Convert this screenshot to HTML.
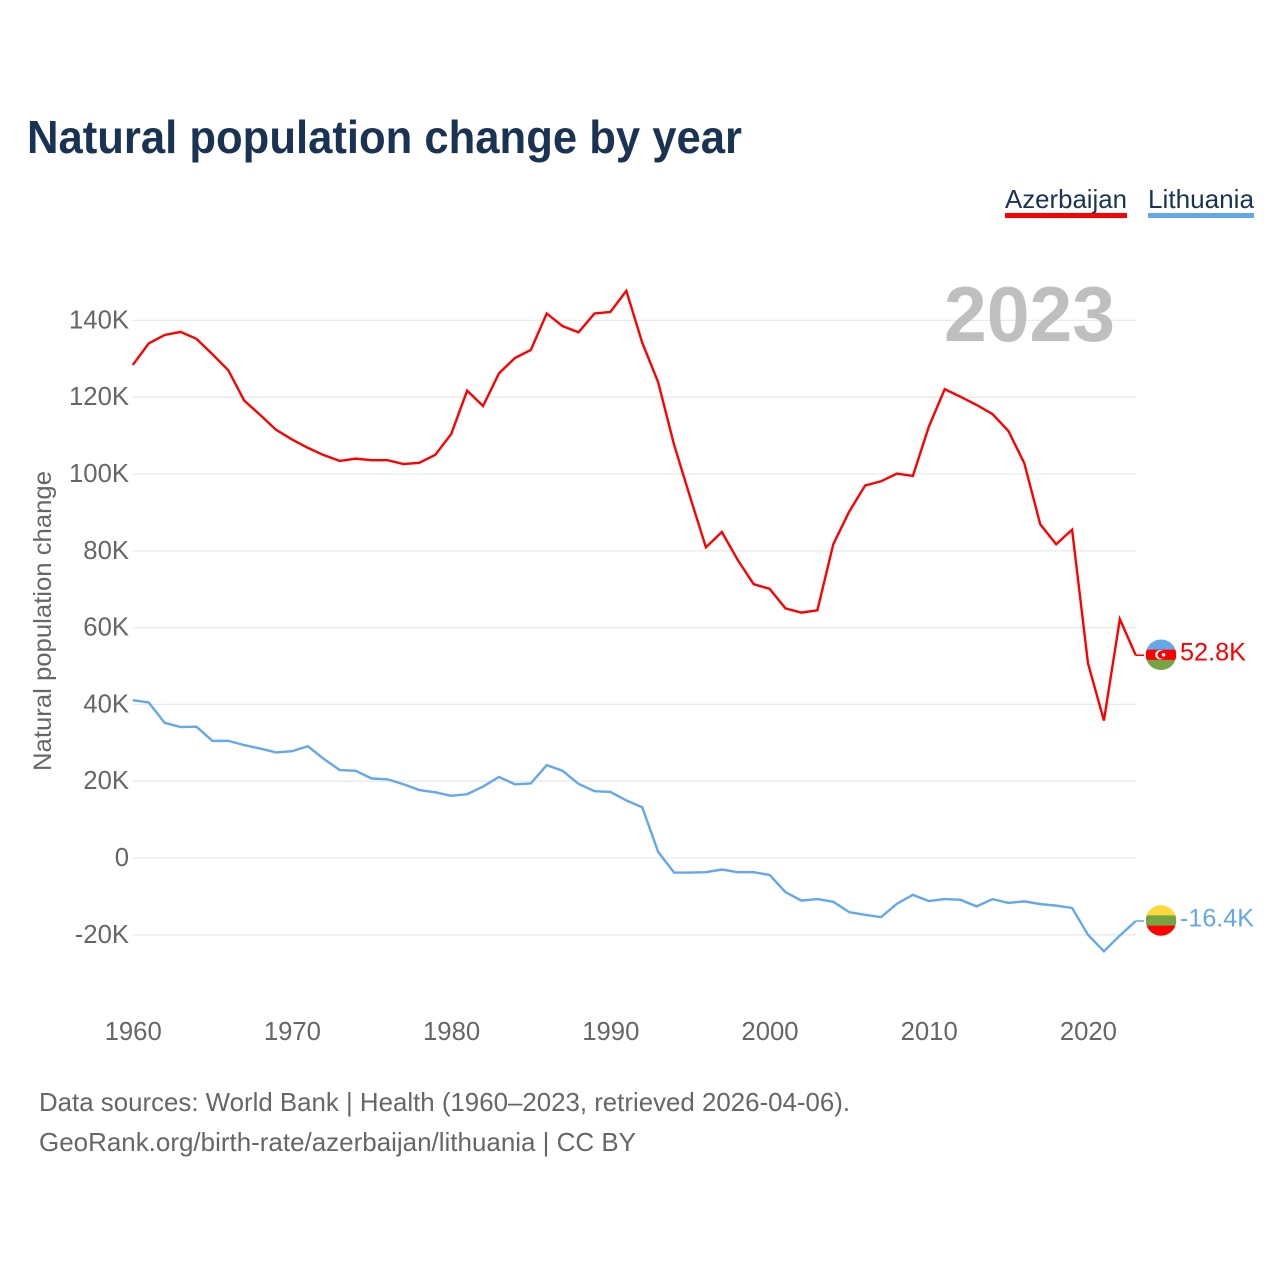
<!DOCTYPE html>
<html lang="en">
<head>
<meta charset="utf-8">
<title>Natural population change by year</title>
<style>
  html, body { margin: 0; padding: 0; background: #ffffff; }
  svg { display: block; }
  text { font-family: "Liberation Sans", sans-serif; }
</style>
</head>
<body>
<svg id="chart" xmlns="http://www.w3.org/2000/svg" width="1280" height="1280" viewBox="0 0 1280 1280">
  <rect x="0" y="0" width="1280" height="1280" fill="#ffffff"/>
  <text x="27" y="153" font-size="46" font-weight="700" fill="#1a3353" textLength="715" lengthAdjust="spacingAndGlyphs">Natural population change by year</text>

  <g>
    <text x="1005" y="208" font-size="26" fill="#1a3353" textLength="122" lengthAdjust="spacingAndGlyphs">Azerbaijan</text>
    <rect x="1005" y="213" width="122" height="5" fill="#ff0000"/>
  </g>
  <g>
    <text x="1148" y="208" font-size="26" fill="#1a3353" textLength="106" lengthAdjust="spacingAndGlyphs">Lithuania</text>
    <rect x="1148" y="213" width="106" height="5" fill="#62a8eb"/>
  </g>

  <g id="grid"></g>
  <text x="944" y="341" font-size="78" font-weight="700" fill="#bfbfbf" textLength="171" lengthAdjust="spacingAndGlyphs">2023</text>
  <g id="y-ticks"></g>
  <g id="x-ticks"></g>
  <text transform="translate(51 621) rotate(-90)" text-anchor="middle" font-size="25" fill="#666666" textLength="300" lengthAdjust="spacingAndGlyphs">Natural population change</text>
  <g id="series"></g>
  <g id="end-markers"></g>

  <text x="39" y="1111" font-size="26" fill="#666666" textLength="811" lengthAdjust="spacingAndGlyphs">Data sources: World Bank | Health (1960–2023, retrieved 2026-04-06).</text>
  <text x="39" y="1151" font-size="26" fill="#666666" textLength="597" lengthAdjust="spacingAndGlyphs">GeoRank.org/birth-rate/azerbaijan/lithuania | CC BY</text>
</svg>

<script>
const firstYear = 1960;
const azerbaijanValues = [128.4,134.0,136.2,137.0,135.2,131.2,127.0,119.1,115.4,111.5,109.0,106.8,104.9,103.4,104.0,103.6,103.6,102.6,102.9,105.0,110.4,121.7,117.7,126.2,130.2,132.3,141.8,138.5,136.9,141.8,142.2,147.7,134.2,123.9,107.6,94.1,80.9,84.9,77.6,71.3,70.1,65.0,63.9,64.5,81.7,90.2,97.0,98.1,100.1,99.5,112.3,122.1,120.1,118.0,115.6,111.2,102.8,86.9,81.7,85.5,50.7,35.8,62.2,52.8];
const lithuaniaValues = [41.1,40.5,35.2,34.1,34.2,30.5,30.5,29.4,28.5,27.5,27.8,29.1,25.8,22.9,22.7,20.7,20.5,19.2,17.7,17.1,16.2,16.6,18.6,21.1,19.2,19.4,24.2,22.7,19.3,17.4,17.2,15.0,13.2,1.6,-3.8,-3.8,-3.7,-3.0,-3.7,-3.7,-4.4,-8.9,-11.1,-10.7,-11.4,-14.1,-14.8,-15.4,-11.9,-9.6,-11.2,-10.7,-10.9,-12.6,-10.7,-11.7,-11.3,-12.0,-12.4,-13.0,-20.0,-24.3,-20.2,-16.4];
const yTickValues = [140,120,100,80,60,40,20,0,-20];
const yTickLabels = ["140K","120K","100K","80K","60K","40K","20K","0","-20K"];
const xTickYears = [1960,1970,1980,1990,2000,2010,2020];
const xTickLabels = ["1960","1970","1980","1990","2000","2010","2020"];
const azerbaijanEndLabel = "52.8K";
const lithuaniaEndLabel = "-16.4K";

const NS = "http://www.w3.org/2000/svg";
function xScale(year) { return 132.8 + (year - 1960) * 15.92; }
function yScale(value) { return 858 - value * 3.84; }
function make(tag, parent, attrs) {
  const el = document.createElementNS(NS, tag);
  for (const k in attrs) el.setAttribute(k, attrs[k]);
  parent.appendChild(el);
  return el;
}
function linePoints(values) {
  return values.map(function (v, i) {
    return xScale(firstYear + i).toFixed(2) + "," + yScale(v).toFixed(2);
  });
}

const gridGroup = document.getElementById("grid");
const yTickGroup = document.getElementById("y-ticks");
yTickValues.forEach(function (v, i) {
  const gridLine = make("line", gridGroup, { x1: 133, x2: 1136, y1: yScale(v), y2: yScale(v), stroke: "#e9e9e9", "stroke-width": 1.3 });
  
  
  const label = make("text", yTickGroup, { x: 129, y: yScale(v) + 8, "text-anchor": "end", "font-size": 25.7, fill: "#666666" });
  label.textContent = yTickLabels[i];
  
  
});

const xTickGroup = document.getElementById("x-ticks");
xTickYears.forEach(function (year, i) {
  const label = make("text", xTickGroup, { x: xScale(year) + 0.4, y: 1040, "text-anchor": "middle", "font-size": 25.7, fill: "#666666" });
  label.textContent = xTickLabels[i];
  
  
});

const seriesGroup = document.getElementById("series");
const azLine = make("polyline", seriesGroup, { points: linePoints(azerbaijanValues).join(" "), fill: "none", stroke: "#ff0000", "stroke-width": 2.4, "stroke-linejoin": "miter" });


const ltLine = make("polyline", seriesGroup, { points: linePoints(lithuaniaValues).join(" "), fill: "none", stroke: "#62a8eb", "stroke-width": 2.4, "stroke-linejoin": "miter" });



const defs = make("defs", document.getElementById("chart"), {});
const markerGroup = document.getElementById("end-markers");
const lastX = xScale(firstYear + azerbaijanValues.length - 1);
const flagX = 1161;
const flagR = 15.3;

function flagBands(name, y, colors) {
  const clip = make("clipPath", defs, { id: "clip-" + name });
  make("circle", clip, { cx: flagX, cy: y, r: flagR });
  const g = make("g", markerGroup, { "clip-path": "url(#clip-" + name + ")" });
  const h = flagR * 2 / 3;
  colors.forEach(function (c, i) {
    make("rect", g, { x: flagX - flagR, y: y - flagR + i * h, width: flagR * 2, height: h + 0.3, fill: c });
  });
  return g;
}

const azEndY = yScale(azerbaijanValues[azerbaijanValues.length - 1]);
const azLeader = make("line", markerGroup, { x1: lastX, x2: 1144, y1: azEndY, y2: azEndY, stroke: "#ff0000", "stroke-width": 1.5 });


const azFlag = flagBands("az", azEndY - 0.5, ["#62a8eb", "#ff0000", "#75a443"]);


make("circle", azFlag, { cx: flagX - 1, cy: azEndY - 0.5, r: 4.8, fill: "#ffffff" });
make("circle", azFlag, { cx: flagX + 0.4, cy: azEndY - 0.5, r: 3.9, fill: "#ff0000" });
make("circle", azFlag, { cx: flagX + 2.6, cy: azEndY - 0.5, r: 1.8, fill: "#ffffff" });
const azLabel = make("text", markerGroup, { x: 1180, y: azEndY + 5.5, "font-size": 25, fill: "#ff0000", textLength: 66, lengthAdjust: "spacingAndGlyphs" });
azLabel.textContent = azerbaijanEndLabel;



const ltEndY = yScale(lithuaniaValues[lithuaniaValues.length - 1]);
const ltLeader = make("line", markerGroup, { x1: lastX, x2: 1144, y1: ltEndY, y2: ltEndY, stroke: "#62a8eb", "stroke-width": 1.5 });


const ltFlag = flagBands("lt", ltEndY - 0.5, ["#ffd83d", "#75a443", "#ff0000"]);


const ltLabel = make("text", markerGroup, { x: 1180, y: ltEndY + 5.5, "font-size": 25, fill: "#62a8eb", textLength: 74, lengthAdjust: "spacingAndGlyphs" });
ltLabel.textContent = lithuaniaEndLabel;


</script>
</body>
</html>
